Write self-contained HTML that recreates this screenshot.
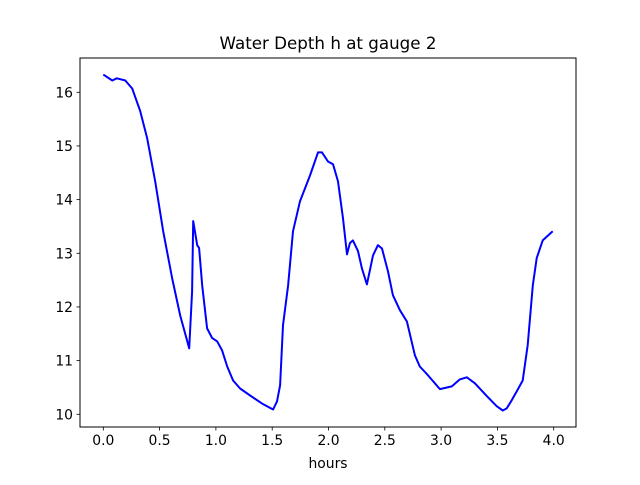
<!DOCTYPE html>
<html><head><meta charset="utf-8"><style>
html,body{margin:0;padding:0;background:#fff;}
svg text{font-family:"DejaVu Sans","Liberation Sans",sans-serif;fill:#000;}
</style></head><body>
<svg id="chart" width="640" height="480" viewBox="0 0 640 480" xmlns="http://www.w3.org/2000/svg">
<rect x="0" y="0" width="640" height="480" fill="#fff"/>
<text x="328" y="49" font-size="16.7" text-anchor="middle">Water Depth h at gauge 2</text>
<g id="plot"></g>
<text x="328" y="468" font-size="13.9" text-anchor="middle">hours</text>
</svg>
<script>
const xTicks = [0, 0.5, 1, 1.5, 2, 2.5, 3, 3.5, 4];
const xTickLabels = ["0.0","0.5","1.0","1.5","2.0","2.5","3.0","3.5","4.0"];
const yTicks = [10, 11, 12, 13, 14, 15, 16];
const yTickLabels = ["10","11","12","13","14","15","16"];
const hours = [0.0,0.08,0.12,0.195,0.257,0.328,0.39,0.461,0.532,0.612,0.683,0.763,0.789,0.798,0.834,0.851,0.878,0.922,0.967,1.011,1.055,1.10,1.153,1.215,1.304,1.41,1.508,1.543,1.57,1.596,1.641,1.685,1.747,1.836,1.907,1.942,1.996,2.04,2.084,2.129,2.164,2.19,2.217,2.262,2.297,2.341,2.395,2.439,2.475,2.528,2.572,2.634,2.696,2.767,2.811,2.882,2.989,3.095,3.166,3.228,3.299,3.406,3.494,3.548,3.583,3.627,3.672,3.725,3.769,3.814,3.849,3.902,3.991];
const depth = [16.33,16.22,16.26,16.22,16.07,15.65,15.14,14.34,13.41,12.53,11.84,11.23,12.29,13.60,13.15,13.10,12.40,11.60,11.42,11.36,11.19,10.89,10.63,10.48,10.35,10.20,10.09,10.24,10.54,11.66,12.40,13.41,13.97,14.45,14.88,14.88,14.71,14.66,14.34,13.65,12.98,13.19,13.24,13.04,12.72,12.42,12.96,13.15,13.09,12.66,12.22,11.94,11.73,11.10,10.89,10.73,10.47,10.52,10.65,10.69,10.58,10.34,10.15,10.07,10.11,10.26,10.43,10.63,11.29,12.40,12.91,13.24,13.41];

const NS = "http://www.w3.org/2000/svg";
const L = 80, R = 576, T = 58, B = 427;
const xS = v => 103.3 + v * 112.6;
const yS = v => 414.3 - (v - 10) * 53.67;
const g = document.getElementById('plot');
function mk(tag, attrs){ const e = document.createElementNS(NS, tag); for (const k in attrs) e.setAttribute(k, attrs[k]); return e; }

const pts = hours.map((t,i) => xS(t).toFixed(1) + "," + yS(depth[i]).toFixed(1)).join(" ");
const line = mk('polyline', {points: pts, fill: 'none', stroke: '#0000ff', 'stroke-width': 2, 'stroke-linejoin': 'round'});


g.appendChild(line);

const frame = mk('rect', {x: L, y: T, width: R - L, height: B - T, fill: 'none', stroke: '#000', 'stroke-width': 1});


g.appendChild(frame);

xTicks.forEach((v,i) => {
  const x = xS(v);
  const tk = mk('line', {x1: x, x2: x, y1: B, y2: B + 3.5, stroke: '#000', 'stroke-width': 0.8});
  
  
  g.appendChild(tk);
  const tx = mk('text', {x: x, y: B + 18, 'font-size': 13.9, 'text-anchor': 'middle'});
  tx.textContent = xTickLabels[i];
  
  
  g.appendChild(tx);
});
yTicks.forEach((v,i) => {
  const y = yS(v);
  const tk = mk('line', {x1: L - 3.5, x2: L, y1: y, y2: y, stroke: '#000', 'stroke-width': 0.8});
  
  
  g.appendChild(tk);
  const tx = mk('text', {x: L - 7, y: y + 5, 'font-size': 13.9, 'text-anchor': 'end'});
  tx.textContent = yTickLabels[i];
  
  
  g.appendChild(tx);
});
</script>
</body></html>
